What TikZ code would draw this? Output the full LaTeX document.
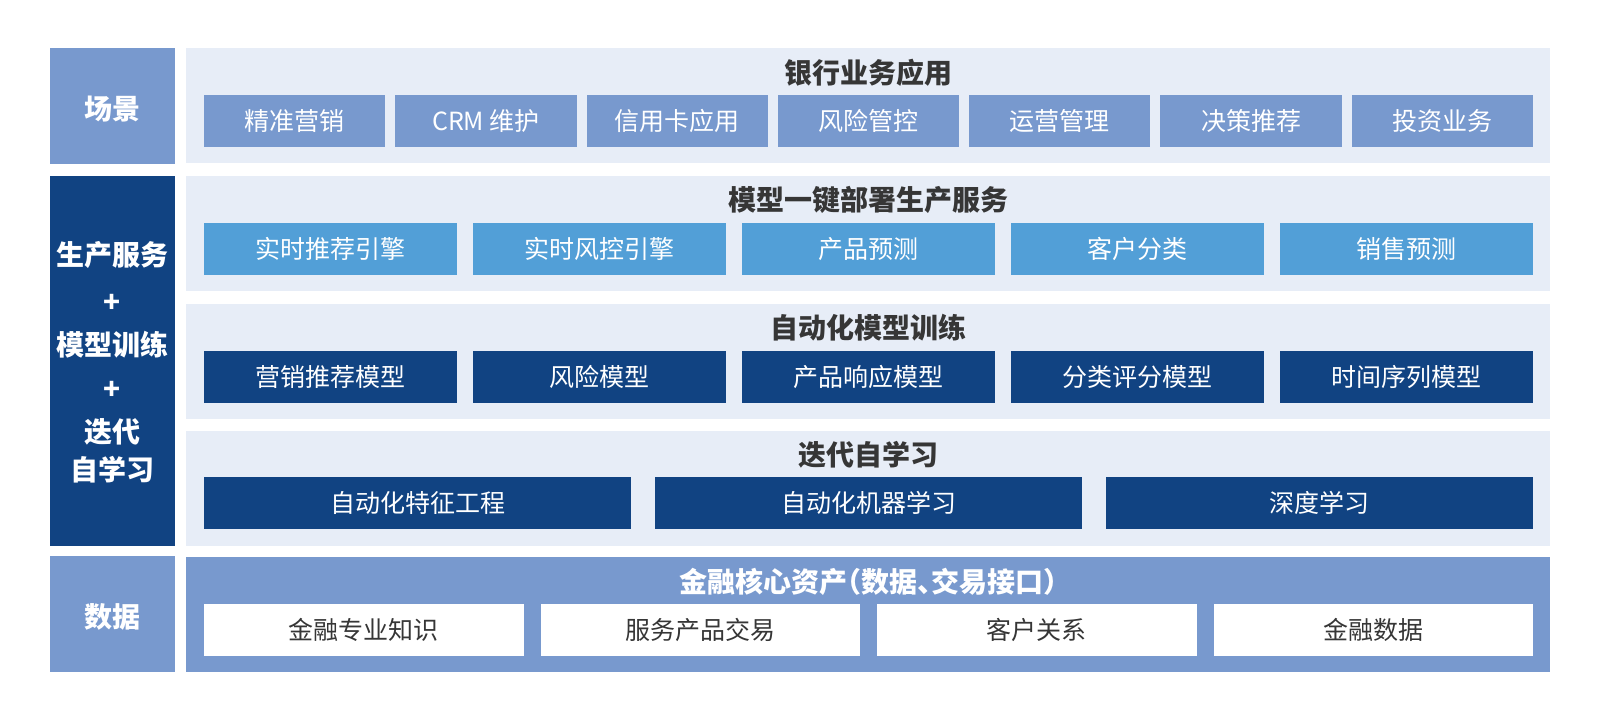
\documentclass[tikz,border=0pt]{standalone}
\usepackage{fontspec}
\setmainfont{Noto Sans CJK SC}
\newfontfamily\titlefont{Noto Sans CJK SC}[RawFeature=+halt]
\definecolor{periw}{HTML}{7899CE}
\definecolor{navy}{HTML}{114382}
\definecolor{midblue}{HTML}{529FD7}
\definecolor{panelbg}{HTML}{E7EDF7}
\definecolor{darktext}{HTML}{363636}
\tikzset{
  sidebox/.style={inner sep=0pt, outer sep=0pt, minimum width=125pt, anchor=north west},
  sidelbl/.style={text=white, font=\fontsize{28}{32}\selectfont\bfseries, inner sep=0pt},
  panelbox/.style={fill=panelbg, inner sep=0pt, outer sep=0pt, minimum width=1364pt, minimum height=115pt, anchor=north west},
  ptitle/.style={text=darktext, font=\titlefont\fontsize{28}{32}\selectfont\bfseries, inner sep=0pt},
  cell/.style={inner sep=0pt, outer sep=0pt, minimum height=52pt, font=\fontsize{25}{29}\selectfont},
  scell/.style={cell, fill=periw, text=white},
  mcell/.style={cell, fill=midblue, text=white},
  ncell/.style={cell, fill=navy, text=white},
  wcell/.style={cell, fill=white, text=darktext},
}
\newcommand\boxrow[6]{%
  \pgfmathsetmacro\bw{(1329-(#2-1)*#3)/#2}%
  \foreach \t [count=\i] in {#6} {
    \node[#5, minimum width=\bw pt, anchor=north west] (#1\i) at ({204+(\i-1)*(\bw+#3)}, #4) {\t};
  }%
}
\begin{document}
\begin{tikzpicture}[x=1pt,y=-1pt]
\useasboundingbox (0,0) rectangle (1600,720);
\fill[white] (0,0) rectangle (1600,720);

% left column
\node[sidebox, fill=periw, minimum height=116pt] (s1) at (50,48) {};
\node[sidelbl] (s1l) at (112.5,109) {场景};
\node[sidebox, fill=navy, minimum height=370pt] (s2) at (50,176) {};
\node[sidelbl] (s2a) at (112.5,255) {生产服务};
\node[sidelbl] (s2b) at (112.5,303) {+};
\node[sidelbl] (s2c) at (112.5,345) {模型训练};
\node[sidelbl] (s2d) at (112.5,390) {+};
\node[sidelbl] (s2e) at (112.5,432) {迭代};
\node[sidelbl] (s2f) at (112.5,470) {自学习};
\node[sidebox, fill=periw, minimum height=116pt] (s3) at (50,556) {};
\node[sidelbl] (s3l) at (112.5,617) {数据};

% panels
\node[panelbox] (p1) at (186,48) {};
\node[panelbox] (p2) at (186,176) {};
\node[panelbox] (p3) at (186,304) {};
\node[panelbox] (p4) at (186,431) {};
\node[panelbox, fill=periw] (p5) at (186,557) {};

% titles
\node[ptitle] (t1) at (868,73) {银行业务应用};
\node[ptitle] (t2) at (868,200) {模型一键部署生产服务};
\node[ptitle] (t3) at (868,328) {自动化模型训练};
\node[ptitle] (t4) at (868,455) {迭代自学习};
\node[ptitle, text=white] (t5) at (868,582) {金融核心资产（数据、交易接口）};

% rows
\boxrow{ra}{7}{10}{95}{scell}{精准营销,CRM 维护,信用卡应用,风险管控,运营管理,决策推荐,投资业务}
\boxrow{rb}{5}{16}{223}{mcell}{实时推荐引擎,实时风控引擎,产品预测,客户分类,销售预测}
\boxrow{rc}{5}{16}{351}{ncell}{营销推荐模型,风险模型,产品响应模型,分类评分模型,时间序列模型}
\boxrow{rd}{3}{24}{477}{ncell}{自动化特征工程,自动化机器学习,深度学习}
\boxrow{re}{4}{17}{604}{wcell}{金融专业知识,服务产品交易,客户关系,金融数据}
\end{tikzpicture}
\end{document}
